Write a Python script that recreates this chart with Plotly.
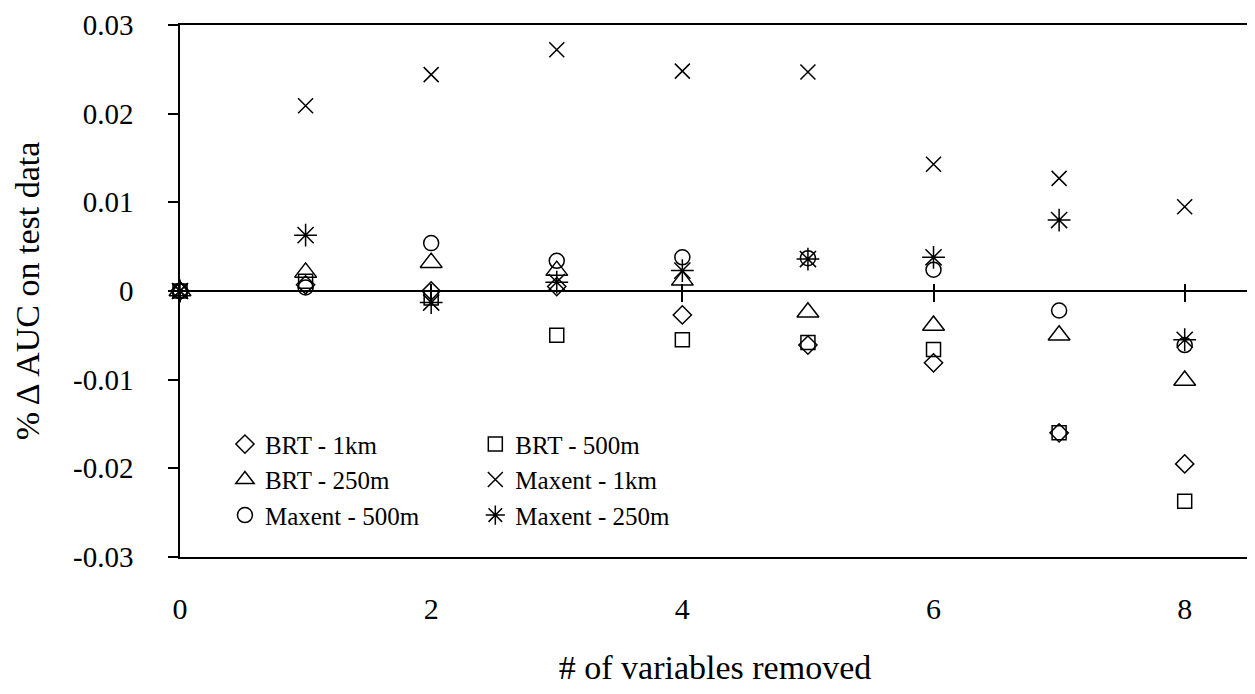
import plotly.graph_objects as go

# number of variables removed
n_removed = [0, 1, 2, 3, 4, 5, 6, 7, 8]

# % change in AUC on test data
brt_1km = [0, 0.0007, 0.0000, 0.0005, -0.0027, -0.0061, -0.0081, -0.0160, -0.0195]
brt_500m = [0, 0.0011, -0.0008, -0.0050, -0.0055, -0.0058, -0.0066, -0.0160, -0.0237]
brt_250m = [0, 0.0021, 0.0032, 0.0023, 0.0012, -0.0024, -0.0039, -0.0050, -0.0101]
maxent_1km = [0, 0.0209, 0.0244, 0.0272, 0.0248, 0.0247, 0.0143, 0.0127, 0.0095]
maxent_500m = [0, 0.0004, 0.0054, 0.0034, 0.0038, 0.0037, 0.0024, -0.0022, -0.0061]
maxent_250m = [0, 0.0063, -0.0013, 0.0010, 0.0023, 0.0036, 0.0038, 0.0080, -0.0055]

y_tickvals = [0.03, 0.02, 0.01, 0, -0.01, -0.02, -0.03]
y_ticktext = ["0.03", "0.02", "0.01", "0", "-0.01", "-0.02", "-0.03"]
x_tickvals = [0, 2, 4, 6, 8]

FONT = "Liberation Serif, Times New Roman, serif"

# name, values, symbol, size, legend column
series = [
    ("BRT - 1km", brt_1km, "diamond-open", 14, "legend"),
    ("BRT - 500m", brt_500m, "square-open", 14, "legend2"),
    ("BRT - 250m", brt_250m, "triangle-up-open", 19, "legend"),
    ("Maxent - 1km", maxent_1km, "x-thin-open", 15, "legend2"),
    ("Maxent - 500m", maxent_500m, "circle-open", 15, "legend"),
    ("Maxent - 250m", maxent_250m, "asterisk-open", 19, "legend2"),
]

fig = go.Figure()
for name, vals, sym, size, leg in series:
    fig.add_trace(go.Scatter(
        x=n_removed, y=vals, mode="markers", name=name, legend=leg,
        cliponaxis=False,
        marker=dict(symbol=sym, size=size, color="black",
                    line=dict(color="black", width=1.5)),
    ))

# empty traces so the overlay axes (cross ticks on the zero line) get drawn
for ax in ["x2", "x3"]:
    fig.add_trace(go.Scatter(x=[], y=[], xaxis=ax, showlegend=False, hoverinfo="skip"))

xrange = [0, 8.52]
legend_style = dict(
    font=dict(family=FONT, size=25, color="black"),
    bgcolor="rgba(0,0,0,0)", xanchor="left", yanchor="top",
    itemwidth=30, traceorder="normal",
)

# page body adds an 8px offset, so the figure is a bit smaller than the window
fig.update_layout(
    width=1247, height=686,
    margin=dict(l=172, r=5, t=17, b=137),
    plot_bgcolor="white", paper_bgcolor="white",
    font=dict(family=FONT, color="black"),
    xaxis=dict(
        range=xrange, tickvals=x_tickvals, ticks="", showgrid=False, zeroline=False,
        showline=True, mirror=True, linecolor="black", linewidth=1.5,
        tickfont=dict(family=FONT, size=30), ticklabelstandoff=24, automargin=False,
        title=dict(text="# of variables removed", font=dict(family=FONT, size=34), standoff=31),
    ),
    xaxis2=dict(
        overlaying="x", anchor="free", position=0.5, range=xrange, tickvals=x_tickvals,
        ticks="outside", ticklen=10, tickwidth=1.5, tickcolor="black",
        showticklabels=False, showgrid=False, zeroline=False, showline=False,
    ),
    xaxis3=dict(
        overlaying="x", anchor="free", position=0.5, range=xrange, tickvals=x_tickvals,
        ticks="inside", ticklen=7, tickwidth=1.5, tickcolor="black",
        showticklabels=False, showgrid=False, zeroline=False, showline=False,
    ),
    yaxis=dict(
        range=[-0.03, 0.03], tickvals=y_tickvals, ticktext=y_ticktext,
        ticks="outside", ticklen=10, tickwidth=1.5, tickcolor="black",
        showgrid=False, zeroline=True, zerolinecolor="black", zerolinewidth=1.5,
        showline=True, mirror=True, linecolor="black", linewidth=1.5,
        tickfont=dict(family=FONT, size=29), ticklabelstandoff=29, automargin=False,
        title=dict(text="% \u0394 AUC on test data", font=dict(family=FONT, size=34), standoff=23),
    ),
    legend=dict(x=0.042, y=0.255, **legend_style),
    legend2=dict(x=0.276, y=0.255, **legend_style),
)

fig.write_html("out.html")
